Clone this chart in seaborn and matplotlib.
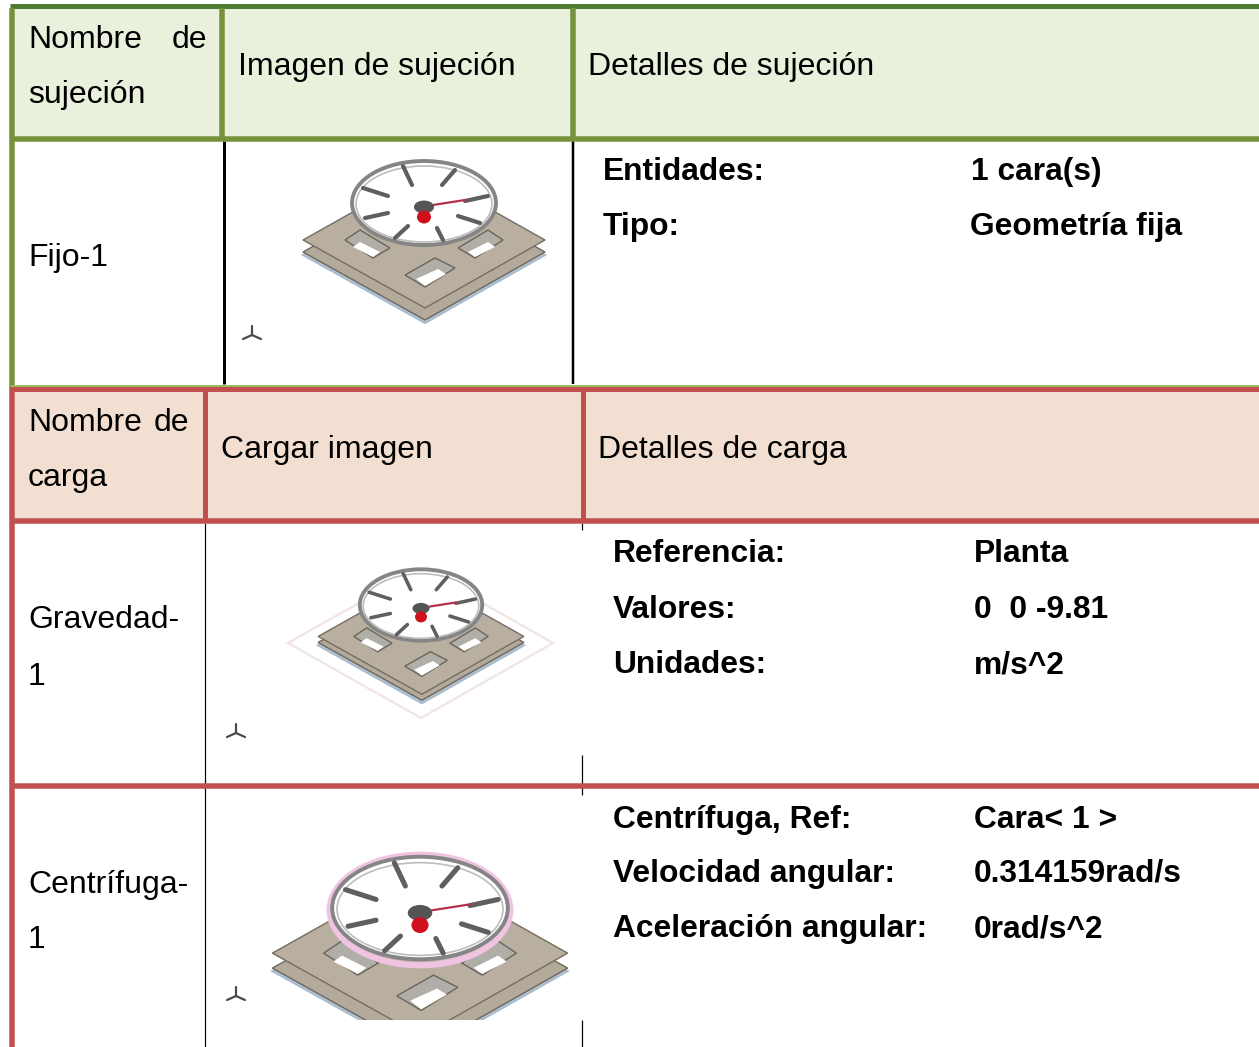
import matplotlib
matplotlib.use('Agg')
import matplotlib.pyplot as plt
import seaborn as sns
from matplotlib.patches import Ellipse, Polygon, Rectangle

# table text
fix_header = ['Imagen de sujeción', 'Detalles de sujeción']
load_header = ['Cargar imagen', 'Detalles de carga']
fix_labels = ['Entidades:', 'Tipo:']
fix_values = ['1 cara(s)', 'Geometría fija']
gravity_labels = ['Referencia:', 'Valores:', 'Unidades:']
gravity_values = ['Planta', '0  0 -9.81', 'm/s^2']
centrifugal_labels = ['Centrífuga, Ref:', 'Velocidad angular:', 'Aceleración angular:']
centrifugal_values = ['Cara< 1 >', '0.314159rad/s', '0rad/s^2']

# model outline, relative to the ring centre
plate = [(-121, 37), (1, 105), (121, 37), (0, -31)]
holes = [[(-19, 72), (11, 55), (31, 65), (1, 84)],
         [(34, 45), (64, 27), (79, 37), (51, 55)],
         [(-34, 45), (-64, 27), (-79, 37), (-51, 55)]]
hole_gaps = [[(-8, 76), (14, 66), (22, 71), (1, 83)],
             [(44, 49), (64, 39), (71, 44), (51, 54)],
             [(-44, 49), (-64, 39), (-71, 44), (-51, 54)]]
spokes = [((-21, -37), (-12, -18)), ((31, -33), (18, -18)), ((-61, -15), (-36, -7)),
          ((64, -7), (41, -2)), ((-59, 15), (-36, 10)), ((34, 13), (56, 20)),
          ((-16, 23), (-29, 35)), ((13, 25), (19, 37))]

GREEN, GREEN_DARK, GREEN_LIGHT = '#76923c', '#4f7a32', '#9bbb59'
RED = '#c0504d'
GREEN_FILL, RED_FILL = '#e9f0dc', '#f2dfd2'
FONT = 'Liberation Sans'

sns.set_theme(style='white')
plt.rcParams['font.family'] = [FONT, 'DejaVu Sans']

fig = plt.figure(figsize=(12.59, 10.47), dpi=100)
ax = fig.add_axes([0, 0, 1, 1])


def rule(x0, y0, x1, y1, color, width):
    sns.lineplot(x=[x0, x1], y=[y0, y1], color=color, linewidth=width * 0.72,
                 solid_capstyle='butt', estimator=None, sort=False, legend=False,
                 ax=ax, zorder=5)


def fill(x0, y0, x1, y1, color):
    ax.add_patch(Rectangle((x0, y0), x1 - x0, y1 - y0, fc=color, ec='none', zorder=1))


def label(x, y, s, size=23.0, weight='normal', ha='left'):
    ax.text(x, y, s, fontsize=size, fontweight=weight, ha=ha, va='baseline',
            color='black', family=[FONT, 'DejaVu Sans'], zorder=6)


def triad(cx, cy):
    for dx, dy in [(0, -9), (-9, 4), (9, 4)]:
        ax.plot([cx, cx + dx], [cy, cy + dy], color='#4a4a4a', lw=1.6, zorder=3)


def model(cx, cy, k, drop, clip_y=None, pink=False):
    def pts(rel, dy=0):
        return [(cx + k * x, cy + k * y + dy) for x, y in rel]

    items = []
    add = lambda p: items.append(ax.add_patch(p))
    add(Polygon(pts(plate, drop + 3), fc='#b5c6d6', ec='#a8bccd', lw=1.5, zorder=2))
    add(Polygon(pts(plate, drop), fc='#b3aa9b', ec='#6e675c', lw=1, zorder=2))
    add(Polygon(pts(plate), fc='#b8afa0', ec='#756d60', lw=1, zorder=2))
    for hole, gap in zip(holes, hole_gaps):
        add(Polygon(pts(hole), fc='#b0aea6', ec='#6b655a', lw=1, zorder=2))
        add(Polygon(pts(gap), fc='white', ec='none', zorder=2))
    # ring, white inside like the source render
    w, h = 144 * k, 84 * k
    if pink:
        add(Ellipse((cx, cy + 2), w + 5, h + 8, fc='none', ec='#f0c4e0', lw=4.5, zorder=3))
    add(Ellipse((cx, cy), w, h, fc='white', ec='#858585', lw=2.8, zorder=3))
    add(Ellipse((cx, cy + 1), w - 8 * k, h - 8 * k, fc='none', ec='#bdbdbd', lw=1.2, zorder=3))
    for a, b in spokes:
        (x0, y0), (x1, y1) = pts([a, b])
        items.extend(ax.plot([x0, x1], [y0, y1], color='#5f5f5f', lw=3 * k,
                             solid_capstyle='round', zorder=3))
    (x0, y0), (x1, y1) = pts([(9, 2), (41, -3)])
    items.extend(ax.plot([x0, x1], [y0, y1], color='#b5304a', lw=1.6, zorder=3))
    add(Ellipse((cx, cy + 4 * k), 20 * k, 13 * k, fc='#555555', ec='none', zorder=3))
    add(Ellipse((cx, cy + 14 * k), 14 * k, 13 * k, fc='#d0101c', ec='none', zorder=4))
    if clip_y is not None:
        box = Rectangle((0, 0), 1259, clip_y, transform=ax.transData)
        for item in items:
            item.set_clip_path(box)


# header fills
fill(15, 8, 1259, 137, GREEN_FILL)
fill(15, 391, 1259, 519, RED_FILL)

# fixture table borders
rule(224, 141, 224, 384, 'black', 3)
rule(573, 141, 573, 384, 'black', 2.5)
rule(10, 6, 1259, 6, GREEN_DARK, 5)
rule(12.5, 8, 12.5, 387, GREEN, 5.5)
rule(222, 8, 222, 137, GREEN, 5.5)
rule(573, 8, 573, 137, GREEN, 5.5)
rule(10, 138.5, 1259, 138.5, GREEN, 5.5)
rule(10, 385.5, 1259, 385.5, GREEN_LIGHT, 3)

# load table borders
rule(205.5, 523, 205.5, 1047, 'black', 1.2)
rule(582.5, 523, 582.5, 530, 'black', 1.2)
rule(582.5, 755, 582.5, 795, 'black', 1.2)
rule(582.5, 1020, 582.5, 1047, 'black', 1.2)
rule(10, 389, 1259, 389, RED, 5)
rule(12.5, 387, 12.5, 1047, RED, 5.5)
rule(205.5, 389, 205.5, 521, RED, 5)
rule(583, 389, 583, 521, RED, 5)
rule(10, 520.5, 1259, 520.5, RED, 5.5)
rule(10, 785.5, 1259, 785.5, RED, 5.5)

# header and row text
label(28, 48, 'Nombre')
label(207, 48, 'de', ha='right')
label(28, 103, 'sujeción')
label(238, 75, fix_header[0])
label(588, 75, fix_header[1])
label(28, 431, 'Nombre')
label(189, 431, 'de', ha='right')
label(28, 486, 'carga')
label(221, 458, load_header[0])
label(598, 458, load_header[1])
label(28, 266, 'Fijo-1')
label(28, 628, 'Gravedad-')
label(28, 685, '1')
label(28, 893, 'Centrífuga-')
label(28, 948, '1')

fix_y = [180, 235]
for y, name, val, vx in zip(fix_y, fix_labels, fix_values, [971, 970]):
    label(603, y, name, 22.9, 'bold')
    label(vx, y, val, 22.9, 'bold')
for y, name, val in zip([562, 618, 673], gravity_labels, gravity_values):
    label(613, y, name, 22.9, 'bold')
    label(974, y, val, 22.9, 'bold')
for y, name, val in zip([828, 882, 937], centrifugal_labels, centrifugal_values):
    label(613, y, name, 22.9, 'bold')
    label(974, y, val, 22.9, 'bold')

# pictures
model(424, 203, 1.0, 12)
triad(252, 335)

ax.add_patch(Polygon([(288, 643), (421, 718), (553, 643), (421, 568)], fc='none',
                     ec='#f1e4e4', lw=1.6, zorder=2))
model(421, 605, 0.85, 6)
triad(236, 733)

model(420, 908, 1.22, 15, clip_y=1020, pink=True)
triad(236, 996)

ax.set_xlim(0, 1259)
ax.set_ylim(1047, 0)
ax.axis('off')
fig.savefig('out.png', dpi=100, facecolor='white')
